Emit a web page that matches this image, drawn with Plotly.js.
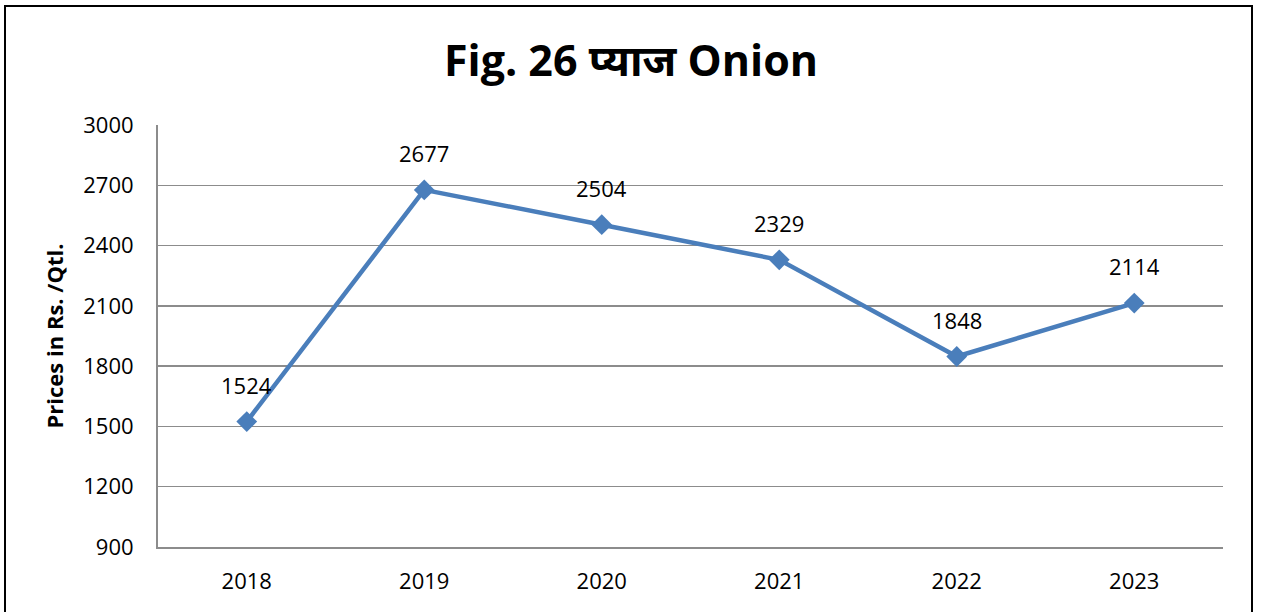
<!DOCTYPE html>
<html><head><meta charset="utf-8">
<script src="https://cdn.plot.ly/plotly-3.0.1.min.js"></script>
<style>
html,body{margin:0;padding:0;background:#fff;overflow:hidden;}
#frame{position:absolute;left:4px;top:5px;width:1245px;height:640px;border:2px solid #000;pointer-events:none;}
</style>
</head><body>
<div id="chart" style="width:1262px;height:612px;"></div>
<div id="frame"></div>
<script>
const years = ['2018','2019','2020','2021','2022','2023'];
const prices = [1524, 2677, 2504, 2329, 1848, 2114];
const yTicks = [900, 1200, 1500, 1800, 2100, 2400, 2700, 3000];

const font = 'Open Sans, Noto Sans, sans-serif';

const trace = {
  x: years, y: prices, type: 'scatter', mode: 'lines+markers',
  line: {color: '#4a7ebb', width: 4.5},
  marker: {symbol: 'diamond', size: 16, color: '#4a7ebb'},
  hoverinfo: 'skip'
};

const annotations = years.map((yr, i) => ({
  x: i, y: prices[i], xref: 'x', yref: 'y', text: String(prices[i]), showarrow: false,
  yshift: 37, font: {family: font, size: 22, color: '#000'}
}));

const layout = {
  width: 1262, height: 612,
  margin: {l: 158, r: 39, t: 125, b: 65},
  paper_bgcolor: '#fff', plot_bgcolor: '#fff',
  showlegend: false,
  title: {text: '<b>Fig. 26 प्याज Onion</b>', x: 0.5, xanchor: 'center', y: 0.9, yanchor: 'middle',
          xref: 'container', yref: 'container', font: {family: font, size: 43, color: '#000'}},
  xaxis: {type: 'category', range: [-0.5, 5.5], showgrid: false, zeroline: false,
          showline: true, linecolor: '#8c8c8c', linewidth: 2, ticks: '',
          tickfont: {family: font, size: 22, color: '#000'}, ticklabelstandoff: 14, fixedrange: true},
  yaxis: {range: [900, 3000], tickvals: yTicks, ticktext: yTicks.map(String),
          showgrid: true, gridcolor: '#8c8c8c', gridwidth: 1.5, zeroline: false,
          showline: true, linecolor: '#8c8c8c', linewidth: 2, ticks: '',
          tickfont: {family: font, size: 22, color: '#000'}, ticklabelstandoff: 18,
          title: {text: '<b>Prices in Rs. /Qtl.</b>', font: {family: font, size: 22, color: '#000'}, standoff: 14},
          fixedrange: true},
  annotations: annotations
};

Plotly.newPlot('chart', [trace], layout, {displayModeBar: false, staticPlot: true});
</script>
</body></html>
